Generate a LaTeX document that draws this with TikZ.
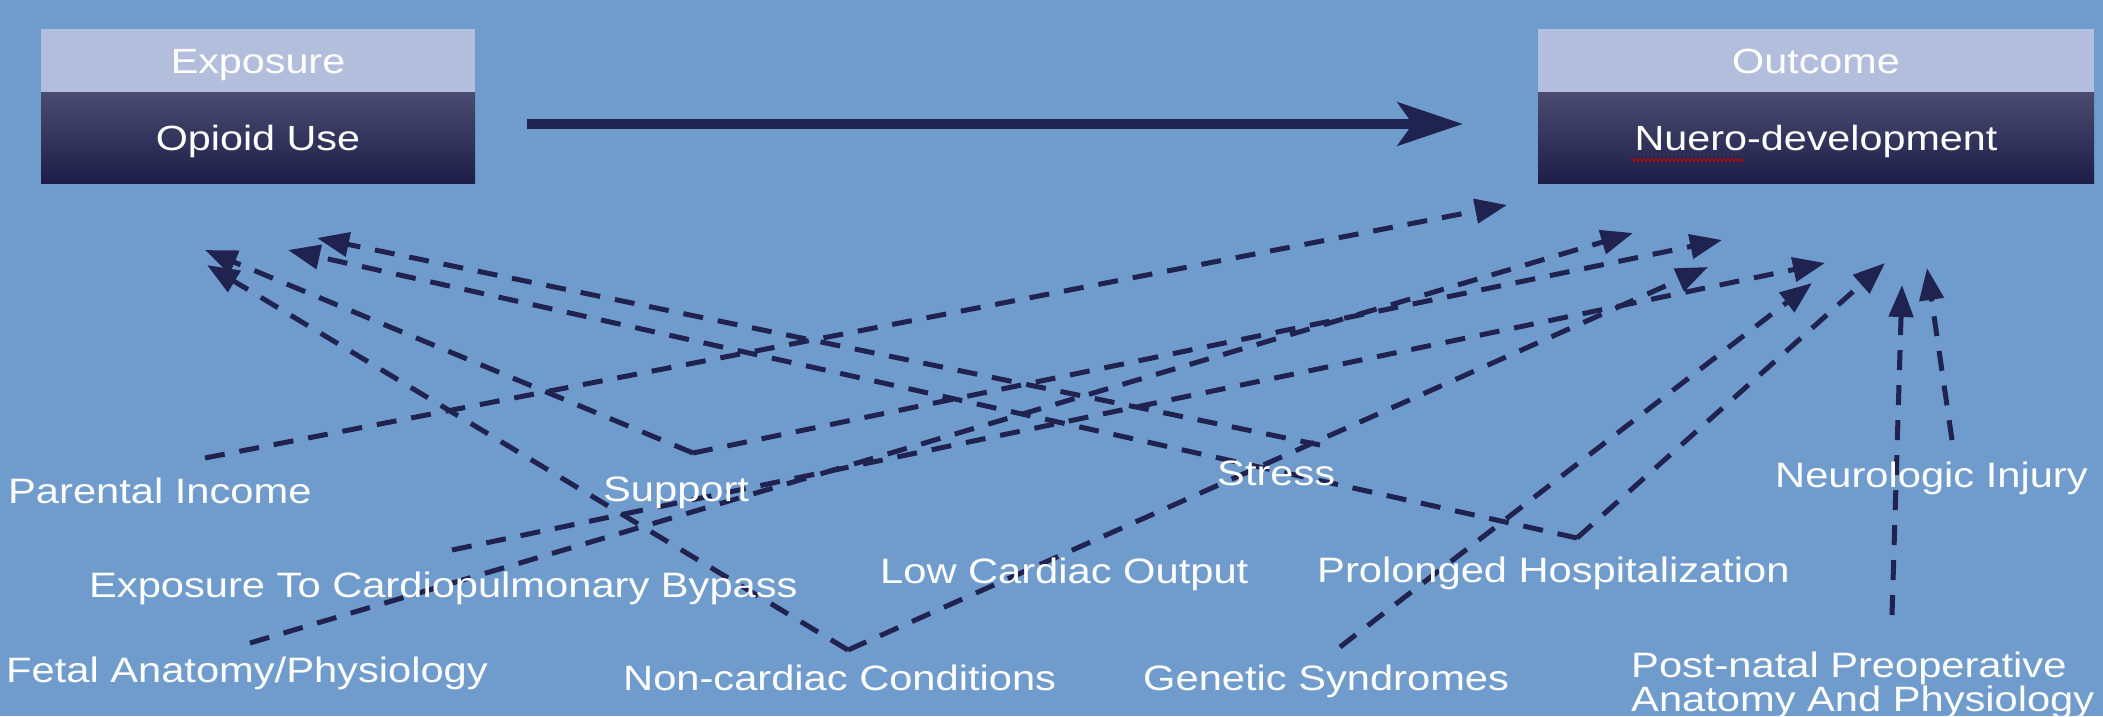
\documentclass[tikz,border=0pt]{standalone}
\usepackage{fontspec}
\setmainfont[FakeStretch=1.18]{Liberation Sans}
\usetikzlibrary{arrows.meta,decorations.pathmorphing}

\definecolor{slide}{RGB}{111,156,204}
\definecolor{headcol}{RGB}{179,190,221}
\definecolor{bodytop}{RGB}{74,76,112}
\definecolor{bodybot}{RGB}{29,30,72}
\definecolor{ink}{RGB}{32,34,80}

\begin{document}
\begin{tikzpicture}[x=1pt,y=-1pt,
    lbl/.style={text=white,inner sep=0pt,anchor=base west,
      font=\fontsize{35.3}{29}\selectfont},
    head/.style={fill=headcol,minimum height=63pt,inner sep=0pt,text=white,
      text height=25pt,text depth=0pt,font=\fontsize{35}{40}\selectfont},
    body/.style={top color=bodytop,bottom color=bodybot,minimum height=91pt,
      inner sep=0pt,text=white,text height=25pt,text depth=0pt,
      font=\fontsize{35}{40}\selectfont},
    mainarrow/.style={draw=ink,line width=10pt,
      -{Stealth[length=65pt,width=43pt,inset=15pt]}},
    dep/.style={draw=ink,line width=5pt,dash pattern=on 20pt off 15pt,
      -{Triangle[length=32pt,width=24pt]}}]

  % the slide
  \fill[slide] (0,0) rectangle (2103,716);
  \useasboundingbox (0,0) rectangle (2103,716);

  % exposure and outcome boxes
  \node[head,minimum width=434pt] (exphead) at (258,60.5) {Exposure};
  \node[body,minimum width=434pt] (expbody) at (258,137.5) {Opioid Use};
  \node[head,minimum width=556pt] (outhead) at (1816,60.5) {Outcome};
  \node[body,minimum width=556pt] (outbody) at (1816,137.5) {Nuero-development};
  % spell checker mark under "Nuero"
  \draw[red!75!black,line width=1pt,decorate,
    decoration={snake,amplitude=1.3pt,segment length=4pt}] (1631,160) -- (1745,160);

  \draw[mainarrow] ([xshift=52pt,yshift=13.5pt]expbody.east)
    -- ([xshift=-75pt,yshift=13.5pt]outbody.west);

  % where the dashed lines leave the factors
  \coordinate (c-inc) at (205,458);
  \coordinate (c-sup) at (693,453);
  \coordinate (c-cpb) at (452,550);
  \coordinate (c-fet) at (250,643);
  \coordinate (c-non) at (848,650);
  \coordinate (c-str) at (1320,445);
  \coordinate (c-pro) at (1577,538);
  \coordinate (c-gen) at (1340,647);
  \coordinate (c-pst) at (1892,615);
  \coordinate (c-neu) at (1952,440);
  % where they land under the exposure box
  \coordinate (e1) at (205,250);
  \coordinate (e2) at (207,265);
  \coordinate (e3) at (288,250);
  \coordinate (e4) at (317,238);
  % where they land under the outcome box
  \coordinate (o1) at (1507,205);
  \coordinate (o2) at (1633,233);
  \coordinate (o3) at (1722,240);
  \coordinate (o4) at (1708,267);
  \coordinate (o5) at (1825,263);
  \coordinate (o6) at (1812,283);
  \coordinate (o7) at (1885,263);
  \coordinate (o8) at (1902,285);
  \coordinate (o9) at (1927,268);

  \foreach \from/\to in {c-sup/e1,c-non/e2,c-pro/e3,c-str/e4,
      c-inc/o1,c-fet/o2,c-sup/o3,c-non/o4,c-cpb/o5,
      c-gen/o6,c-pro/o7,c-pst/o8,c-neu/o9}
    \draw[dep] (\from) -- (\to);

  % factors
  \node[lbl] (income)  at (8,503)    {Parental Income};
  \node[lbl] (support) at (603,501)  {Support};
  \node[lbl] (stress)  at (1217,485) {Stress};
  \node[lbl] (neuro)   at (1775,487) {Neurologic Injury};
  \node[lbl] (cpb)     at (89,597)   {Exposure To Cardiopulmonary Bypass};
  \node[lbl] (lowco)   at (880,583)  {Low Cardiac Output};
  \node[lbl] (prolong) at (1317,582) {Prolonged Hospitalization};
  \node[lbl] (fetal)   at (6,682)    {Fetal Anatomy/Physiology};
  \node[lbl] (noncard) at (623,690)  {Non-cardiac Conditions};
  \node[lbl] (genetic) at (1143,690) {Genetic Syndromes};
  \node[lbl,anchor=north west,align=left] (postnat) at (1631,652)
    {Post-natal Preoperative\\Anatomy And Physiology};

\end{tikzpicture}
\end{document}
